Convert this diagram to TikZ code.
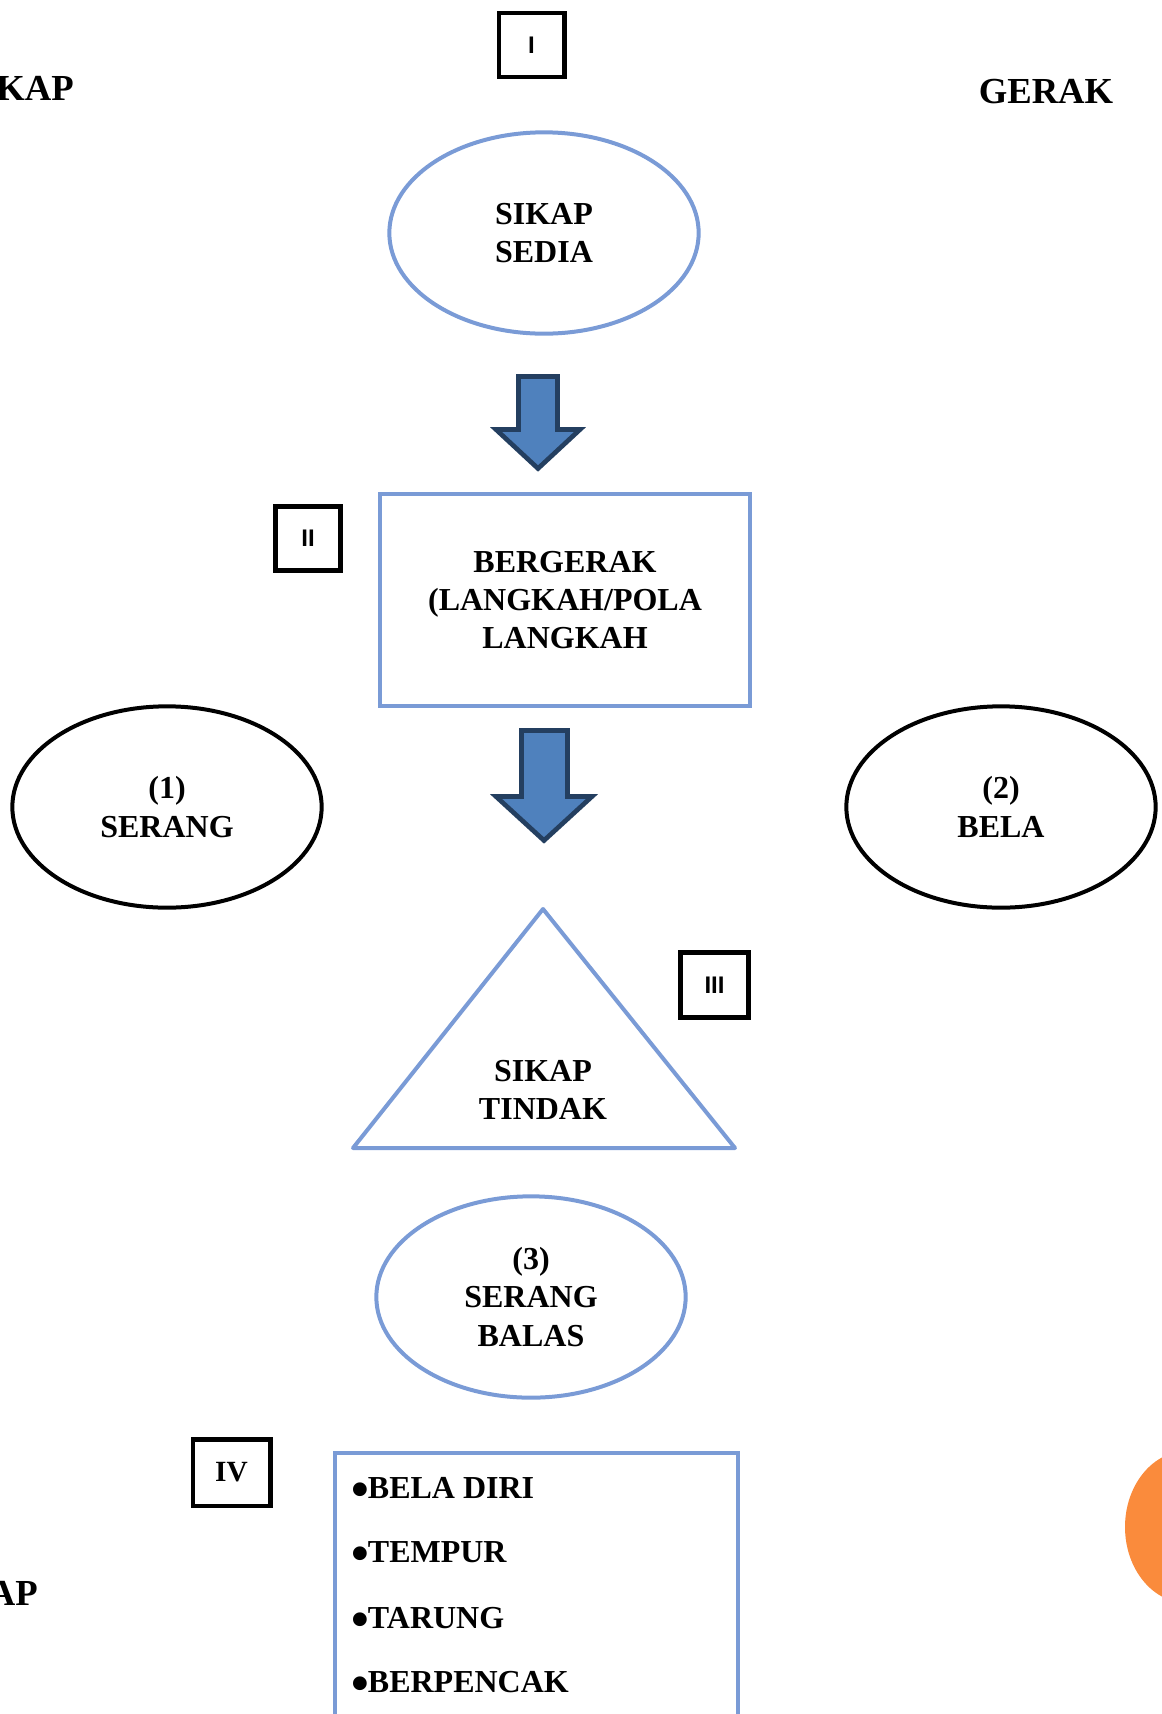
\documentclass[tikz,border=0pt]{standalone}
\usepackage{fontspec}
\setmainfont{Liberation Serif}
\setsansfont{Liberation Sans}
\usetikzlibrary{shapes.geometric, positioning}
\definecolor{garisbiru}{HTML}{7A9BD6}
\definecolor{isipanah}{HTML}{4F81BD}
\definecolor{tepipanah}{HTML}{243F60}
\definecolor{oranye}{HTML}{FA8B3C}
\newcommand{\butir}{\makebox[11pt][l]{\hspace{-1.5pt}\raisebox{-6pt}{\fontsize{38}{38}\selectfont•}}}
\tikzset{
every node/.style={font=\bfseries\fontsize{24}{28.8}\selectfont, align=center}, % bold serif labels
elipsbiru/.style={ellipse, draw=garisbiru, line width=3pt, minimum width=232pt, minimum height=151pt, inner sep=0pt}, % blue ovals
elipshitam/.style={ellipse, draw=black, line width=3pt, minimum width=232pt, minimum height=151pt, inner sep=0pt}, % black ovals
kotakbiru/.style={rectangle, draw=garisbiru, line width=3pt}, % blue boxes
nomor/.style={rectangle, draw=black, line width=3.5pt, minimum width=49pt, minimum height=48pt, inner sep=0pt, font=\sffamily\bfseries\fontsize{18}{18}\selectfont}, % step numbers
panah/.style={fill=isipanah, draw=tepipanah, line width=3.5pt, line join=miter}, % block arrows
judul/.style={font=\bfseries\fontsize{27.5}{33}\selectfont, inner sep=0pt}, % side headings
}

\begin{document}
\begin{tikzpicture}[x=0.75pt, y=-0.75pt]
        \useasboundingbox (0,0) rectangle (1162,1714);
        \clip (0,0) rectangle (1162,1714);

        % side headings
        \node[judul, anchor=base east] (sikapatas) at (74,100) {SIKAP};
        \node[judul, anchor=base] (gerak) at (1046,103) {GERAK};
        \node[judul, anchor=base east] (sikapbawah) at (38,1605) {SIKAP};

        % step numbers
        \node[nomor] (nomor1) at (531.5,45) {I};
        \node[nomor] (nomor2) at (308,538.5) {II};
        \node[nomor, minimum width=51pt, minimum height=49pt] (nomor3) at (714.5,985) {III};
        \node[nomor, minimum width=58pt, minimum height=50pt, font=\bfseries\fontsize{22}{22}\selectfont] (nomor4) at (231.5,1472.5) {IV};

        % main shapes
        \node[elipsbiru] (sedia) at (544,233) {SIKAP\\SEDIA};
        \node[kotakbiru, minimum width=278pt, minimum height=159pt] (bergerak) at (565,600) {BERGERAK\\(LANGKAH/POLA\\LANGKAH};
        \node[elipshitam] (serang) at (167,807) {(1)\\SERANG};
        \node[elipshitam] (bela) at (1001,807) {(2)\\BELA};
        \draw[garisbiru, line width=3pt, line join=round] (543,909) -- (735,1148) -- (353,1148) -- cycle;
        \node (tindak) at (543,1090) {SIKAP\\TINDAK};
        \node[elipsbiru] (balas) at (531,1297) {(3)\\SERANG\\BALAS};

        % list box
        \node[kotakbiru, anchor=north west, minimum width=302pt, minimum height=225pt] (daftar) at (333,1451) {};
        \node[anchor=base west, inner sep=0pt] (item1) at (353,1498) {\butir BELA DIRI};
        \node[anchor=base west, inner sep=0pt] (item2) at (353,1562) {\butir TEMPUR};
        \node[anchor=base west, inner sep=0pt] (item3) at (353,1628) {\butir TARUNG};
        \node[anchor=base west, inner sep=0pt] (item4) at (353,1692) {\butir BERPENCAK};

        % orange shape at the edge
        \node[ellipse, fill=oranye, minimum width=93pt, minimum height=114pt, inner sep=0pt] (hiasan) at (1187,1527) {};

        % block arrows
        \draw[panah] (518.5,376.5) -- (557.5,376.5) -- (557.5,429.5) -- (580,429.5) -- (538,468.5) -- (496,429.5) -- (518.5,429.5) -- cycle;
        \draw[panah] (521.5,730.5) -- (567.5,730.5) -- (567.5,796.5) -- (592,796.5) -- (544,840.5) -- (496,796.5) -- (521.5,796.5) -- cycle;
    \end{tikzpicture}
\end{document}
